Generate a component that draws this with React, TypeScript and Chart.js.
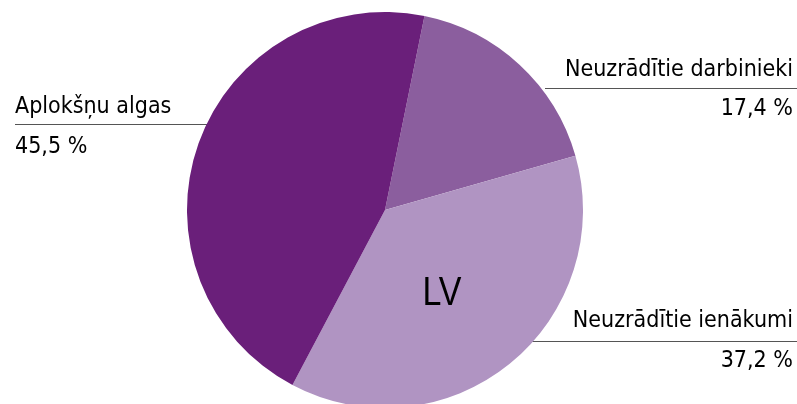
import React, { useEffect, useRef } from "react";
import { Chart, registerables } from "chart.js";

Chart.register(...registerables);

const categories = ["Neuzrādītie darbinieki", "Neuzrādītie ienākumi", "Aplokšņu algas"];
const values = [17.4, 37.2, 45.5];
const valueLabels = ["17,4 %", "37,2 %", "45,5 %"];
const colors = ["#8B5E9E", "#B094C2", "#6A1F7A"];
const centerLabel = "LV";

const FONT = '23px "DejaVu Sans", Verdana, sans-serif';
const SX = 0.9;

function scaledText(ctx: any, text: string, x: number, y: number, align: "left" | "right" | "center", sx: number) {
  ctx.save();
  ctx.translate(x, y);
  ctx.scale(sx, 1);
  ctx.textAlign = align;
  ctx.fillText(text, 0, 0);
  ctx.restore();
}

const labelPlugin = {
  id: "labelPlugin",
  beforeDatasetsDraw(chart: any) {
    const ctx = chart.ctx;
    ctx.save();
    ctx.strokeStyle = "#555555";
    ctx.lineWidth = 1;
    const lines = [
      [545, 88.5, 797],
      [530, 341.5, 797],
      [15, 124.5, 230],
    ];
    for (const [x1, y, x2] of lines) {
      ctx.beginPath();
      ctx.moveTo(x1, y);
      ctx.lineTo(x2, y);
      ctx.stroke();
    }
    ctx.restore();
  },
  afterDatasetsDraw(chart: any) {
    const ctx = chart.ctx;
    ctx.save();
    ctx.fillStyle = "#000000";
    ctx.font = FONT;
    ctx.textBaseline = "alphabetic";
    scaledText(ctx, categories[0], 793, 76, "right", SX);
    scaledText(ctx, valueLabels[0], 793, 115, "right", SX);
    scaledText(ctx, categories[1], 793, 327, "right", SX);
    scaledText(ctx, valueLabels[1], 793, 367, "right", SX);
    scaledText(ctx, categories[2], 15, 113, "left", SX);
    scaledText(ctx, valueLabels[2], 15, 153, "left", SX);
    ctx.font = '40px "Liberation Sans", Arial, sans-serif';
    scaledText(ctx, centerLabel, 442, 305, "center", 0.85);
    ctx.restore();
  },
};

export default function App() {
  const ref = useRef<HTMLCanvasElement>(null);
  useEffect(() => {
    if (!ref.current) return;
    const chart = new Chart(ref.current, {
      type: "pie",
      data: {
        labels: categories,
        datasets: [
          {
            data: values,
            backgroundColor: colors,
            borderWidth: 0,
          },
        ],
      },
      options: {
        responsive: false,
        animation: false,
        rotation: 11.5,
        layout: { padding: { left: 187, right: 214, top: 12, bottom: 12 } },
        plugins: {
          legend: { display: false },
          tooltip: { enabled: false },
        },
      },
      plugins: [labelPlugin],
    });
    return () => chart.destroy();
  }, []);
  return (
    <div style={{ position: "fixed", left: 0, top: 0, width: 797, height: 404, overflow: "hidden", background: "#fff" }}>
      <canvas ref={ref} width={797} height={420} style={{ display: "block", width: 797, height: 420 }} />
    </div>
  );
}
